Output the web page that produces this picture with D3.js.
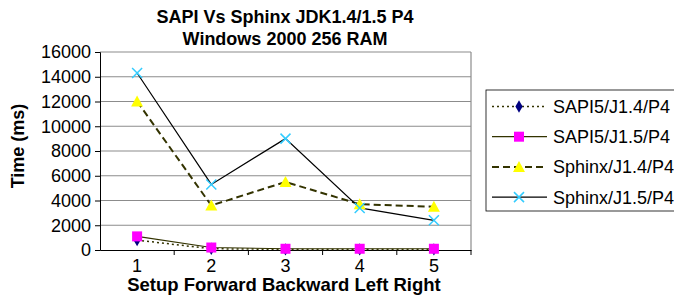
<!DOCTYPE html>
<html>
<head>
<meta charset="utf-8">
<script src="https://cdn.jsdelivr.net/npm/d3@7"></script>
<style>
  body { margin: 0; background: #fff; }
  svg { font-family: "Liberation Sans", Arial, sans-serif; }
</style>
</head>
<body>
<div id="chart"></div>
<script>
// chart data
var categories = ["1", "2", "3", "4", "5"];
var yTicks = [0, 2000, 4000, 6000, 8000, 10000, 12000, 14000, 16000];
var seriesNames = ["SAPI5/J1.4/P4", "SAPI5/J1.5/P4", "Sphinx/J1.4/P4", "Sphinx/J1.5/P4"];
var sapiJ14 = [800, 100, 50, 50, 50];
var sapiJ15 = [1100, 200, 100, 100, 100];
var sphinxJ14 = [12000, 3600, 5500, 3700, 3500];
var sphinxJ15 = [14300, 5300, 9000, 3400, 2400];

var width = 674, height = 304;
var margin = {left: 100, right: 203, top: 52, bottom: 54};

var svg = d3.select("#chart").append("svg")
    .attr("width", width)
    .attr("height", height);

var xScale = d3.scaleBand()
  .domain(categories)
  .range([margin.left, width - margin.right]);

var yScale = d3.scaleLinear()
  .domain([0, 16000])
  .range([height - margin.bottom, margin.top]);

// gridlines
svg.selectAll(".grid")
  .data(yTicks.slice(1))
 .enter()
  .append("line")
  .attr("x1", margin.left)
  .attr("x2", width - margin.right)
  .attr("y1", function(d) { return yScale(d); })
  .attr("y2", function(d) { return yScale(d); })
  .style("stroke", "#8c8c8c")
  .style("stroke-width", 1.2);

// right border
svg.append("line")
  .attr("x1", width - margin.right).attr("x2", width - margin.right)
  .attr("y1", margin.top).attr("y2", height - margin.bottom)
  .style("stroke", "#8c8c8c")
  .style("stroke-width", 1.2);

var xAxis = d3.axisBottom(xScale).tickSize(0).tickPadding(9);
var yAxis = d3.axisLeft(yScale).tickValues(yTicks).tickFormat(d3.format("d")).tickSize(5).tickPadding(4);

var gx = svg.append("g")
  .attr("transform", "translate(0," + yScale(0) + ")")
  .call(xAxis);
gx.select(".domain").style("stroke", "#000");
gx.selectAll("text").style("font-size", "18px").style("fill", "#000");

// x tick marks at band boundaries
svg.selectAll(".xtick")
  .data(categories)
 .enter()
  .append("line")
  .attr("x1", function(d) { return xScale(d) + xScale.bandwidth(); })
  .attr("x2", function(d) { return xScale(d) + xScale.bandwidth(); })
  .attr("y1", yScale(0))
  .attr("y2", yScale(0) + 5)
  .style("stroke", "#000");

var gy = svg.append("g")
  .attr("transform", "translate(" + margin.left + ",0)")
  .call(yAxis);
gy.select(".domain").style("stroke", "#000");
gy.selectAll("text").style("font-size", "18px").style("fill", "#000");

var cx = function(d, i) { return xScale(categories[i]) + xScale.bandwidth() / 2; };
var line = d3.line()
  .x(function(d, i) { return cx(d, i); })
  .y(function(d) { return yScale(d); });

var series = [
  {name: seriesNames[0], values: sapiJ14, stroke: "#333300", dash: "2,3", width: 1.5, marker: "diamond", color: "#000080"},
  {name: seriesNames[1], values: sapiJ15, stroke: "#333300", dash: null, width: 1.2, marker: "square", color: "#ff00ff"},
  {name: seriesNames[2], values: sphinxJ14, stroke: "#333300", dash: "7,4", width: 2, marker: "triangle", color: "#ffff00"},
  {name: seriesNames[3], values: sphinxJ15, stroke: "#000", dash: null, width: 1.2, marker: "x", color: "#33ccff"}
];

function drawMarker(g, type, color, x, y) {
  if (type === "diamond") {
    g.append("path").attr("d", d3.symbol(d3.symbolDiamond, 45)())
      .attr("transform", "translate(" + x + "," + y + ")").style("fill", color);
  } else if (type === "square") {
    g.append("rect").attr("x", x - 5).attr("y", y - 5).attr("width", 10).attr("height", 10)
      .style("fill", color);
  } else if (type === "triangle") {
    g.append("path").attr("d", "M" + x + "," + (y - 6) + "L" + (x + 6) + "," + (y + 5) + "L" + (x - 6) + "," + (y + 5) + "Z")
      .style("fill", color);
  } else {
    g.append("path").attr("d", "M" + (x - 5) + "," + (y - 5) + "L" + (x + 5) + "," + (y + 5) + "M" + (x + 5) + "," + (y - 5) + "L" + (x - 5) + "," + (y + 5))
      .style("stroke", color).style("stroke-width", 1.5).style("fill", "none");
  }
}

series.forEach(function(s) {
  svg.append("path")
    .datum(s.values)
    .attr("d", line)
    .style("fill", "none")
    .style("stroke", s.stroke)
    .style("stroke-width", s.width)
    .style("stroke-dasharray", s.dash);
});
series.forEach(function(s) {
  var g = svg.append("g");
  s.values.forEach(function(v, i) { drawMarker(g, s.marker, s.color, cx(v, i), yScale(v)); });
});

// titles
svg.append("text").attr("x", 285).attr("y", 23).attr("text-anchor", "middle")
  .style("font-size", "18px").style("font-weight", "bold").text("SAPI Vs Sphinx JDK1.4/1.5 P4");
svg.append("text").attr("x", 285).attr("y", 45).attr("text-anchor", "middle")
  .style("font-size", "18px").style("font-weight", "bold").text("Windows 2000 256 RAM");
svg.append("text").attr("transform", "translate(24,146) rotate(-90)")
  .attr("text-anchor", "middle")
  .style("font-size", "18px").style("font-weight", "bold").text("Time (ms)");
svg.append("text").attr("x", 284).attr("y", 291).attr("text-anchor", "middle")
  .style("font-size", "18.5px").style("font-weight", "bold").text("Setup Forward Backward Left Right");

// legend
var legend = svg.append("g");
legend.append("rect").attr("x", 486).attr("y", 90).attr("width", 200).attr("height", 121)
  .style("fill", "#fff").style("stroke", "#000").style("stroke-width", 0.8);
series.forEach(function(s, i) {
  var ly = 106.5 + i * 30.2;
  legend.append("line").attr("x1", 492).attr("x2", 547).attr("y1", ly).attr("y2", ly)
    .style("stroke", s.stroke).style("stroke-width", s.width).style("stroke-dasharray", s.dash);
  drawMarker(legend, s.marker, s.color, 519, ly);
  legend.append("text").attr("x", 553).attr("y", ly + 6.5)
    .style("font-size", "18px").text(s.name);
});
</script>
</body>
</html>
